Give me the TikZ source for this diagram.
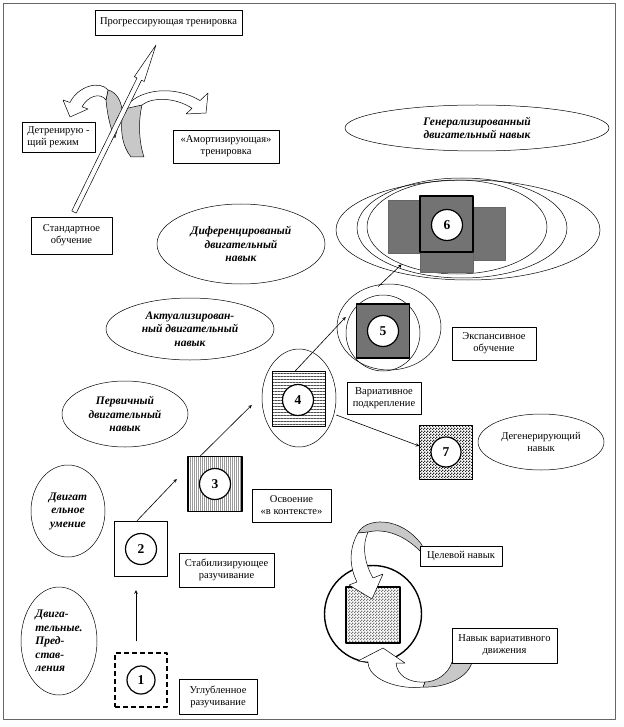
\documentclass[tikz,border=0pt]{standalone}
\usepackage{fontspec}
\setmainfont{Liberation Serif}
\usetikzlibrary{calc,arrows.meta,shapes.geometric,patterns.meta}
\definecolor{sqgray}{HTML}{737373}
\definecolor{twistgray}{HTML}{C8C8C8}
\tikzdeclarepattern{name=finechecker, type=uncolored,
	bounding box={(0,0) and (3pt,3pt)}, tile size={(3pt,3pt)},
	code={\fill (0,0) rectangle (1.5pt,1.5pt); \fill (1.5pt,1.5pt) rectangle (3pt,3pt);}}

\begin{document}
\begin{tikzpicture}[x=1pt, y=-1pt, >=stealth, line join=round,
	txt/.style={font=\fontsize{10.5}{12}\selectfont, align=center},
	box/.style={txt, draw, line width=0.6pt, fill=white, inner sep=0pt},
	oval/.style={ellipse, draw, line width=0.5pt, inner sep=0pt},
	bold/.style={font=\fontsize{11.5}{13.5}\selectfont\bfseries\itshape, align=center},
	sq/.style={draw, line width=1.4pt, inner sep=0pt},
	num/.style={circle, draw, fill=white, line width=1.2pt, inner sep=0pt, minimum size=31pt, font=\fontsize{13.5}{14}\selectfont\bfseries},
	arr/.style={->, line width=0.6pt},
	band/.style={draw, line width=0.5pt, fill=white},
	twist/.style={draw, line width=0.5pt, fill=twistgray}]
	\useasboundingbox (0,0) rectangle (623,727);
	% Рамка
	\draw[line width=1pt, black!60] (3,4) rectangle (615,719);

	% Изогнутые стрелки вверху
	\draw[twist] (108,90) .. controls (116,92) and (121,100) .. (122,110) -- (115,138) .. controls (110,128) and (107,112) .. (106,100) -- cycle;
	\draw[band] (70,102.5) .. controls (78,86) and (100,80) .. (108,90) -- (106,100) .. controls (100,92) and (88,96) .. (82,106.8) -- (88,109) -- (70,117) -- (63,100) -- cycle;
	\draw[twist] (124,109) .. controls (130,106) and (136,105) .. (142,105) .. controls (138,122) and (139,142) .. (144,157) -- (131,157) .. controls (122,146) and (119,128) .. (124,109) -- cycle;
	\draw[band] (124,109) .. controls (138,88) and (175,85) .. (200,100.6) -- (208,93) -- (206,113) -- (186,114) -- (192,108.3) .. controls (175,97) and (152,97) .. (142,105) -- cycle;

	% Стрелка прогресса
	\coordinate (tail) at (74,212);
	\coordinate (tip) at (156,45);
	\coordinate (hb) at ($(tip)!38pt!(tail)$);
	\draw[fill=white, line width=0.5pt] ($(tail)!2.5pt!90:(tip)$) -- ($(hb)!2.5pt!-90:(tail)$) -- ($(hb)!5.5pt!-90:(tail)$) -- (tip) -- ($(hb)!5.5pt!90:(tail)$) -- ($(hb)!2.5pt!90:(tail)$) -- ($(tail)!2.5pt!-90:(tip)$) -- cycle;

	% Подписи режимов
	\node[box, minimum width=147pt, minimum height=25pt] (prog) at (168.5,22.5) {Прогрессирующая тренировка};
	\node[box, align=left, minimum width=73pt, minimum height=30pt] (detr) at (58.5,137) {Детренирую -\\щий режим};
	\node[box, minimum width=106pt, minimum height=33pt] (amort) at (226,146.5) {«Амортизирующая»\\тренировка};
	\node[box, minimum width=81pt, minimum height=37pt] (std) at (71.5,235.5) {Стандартное\\обучение};

	% Уровни навыка
	\node[oval, bold, minimum width=264pt, minimum height=46pt] (gen) at (477,128) {Генерализированный\\двигательный навык};
	\node[oval, bold, minimum width=168pt, minimum height=80pt] (dif) at (241,244) {Диференцированый\\двигательный\\навык};
	\node[oval, bold, minimum width=168pt, minimum height=62pt] (akt) at (190,329) {Актуализирован-\\ный двигательный\\навык};
	\node[oval, bold, minimum width=126pt, minimum height=66pt] (perv) at (125,414) {Первичный\\двигательный\\навык};
	\node[oval, bold, minimum width=74pt, minimum height=92pt] (umen) at (68,511) {Двигат\\ельное\\умение};
	\node[oval, bold, align=left, minimum width=76pt, minimum height=108pt] (pred) at (59,641) {Двига-\\тельные.\\Пред-\\став-\\ления};
	\node[oval, txt, minimum width=126pt, minimum height=56pt] (deg) at (541,442) {Дегенерирующий\\навык};

	% Этапы 1--3
	\node[sq, dash pattern=on 5pt off 3pt, minimum width=52pt, minimum height=54pt] (sq1) at (141,680) {};
	\node[num, minimum size=28pt] (n1) at (sq1) {1};
	\node[sq, minimum width=53pt, minimum height=55pt] (sq2) at (141,549) {};
	\node[num] (n2) at (sq2) {2};
	\node[sq, pattern={Lines[angle=90,distance=2pt,line width=0.4pt]}, pattern color=black!40, minimum width=54pt, minimum height=55pt] (sq3) at (215,484) {};
	\node[num] (n3) at (sq3) {3};

	% Этап 4
	\node[oval, minimum width=74pt, minimum height=98pt] (e4) at (299,398) {};
	\node[sq, pattern={Lines[angle=0,distance=3pt,line width=0.6pt]}, pattern color=black!70, minimum width=53pt, minimum height=55pt] (sq4) at (299,399) {};
	\node[num] (n4) at (298,400) {4};

	% Этап 5
	\node[oval, minimum width=104pt, minimum height=86pt] (e5o) at (389,327) {};
	\node[oval, minimum width=74pt, minimum height=76pt] (e5i) at (383,333) {};
	\node[sq, fill=sqgray, minimum width=53pt, minimum height=54pt] (sq5) at (383,331) {};
	\node[num] (n5) at (sq5) {5};

	% Этап 6
	\node[oval, minimum width=264pt, minimum height=100pt] (e6a) at (468,230) {};
	\node[oval, minimum width=210pt, minimum height=100pt] (e6b) at (462,228) {};
	\node[oval, minimum width=180pt, minimum height=94pt] (e6c) at (457,227) {};
	\filldraw[fill=sqgray, draw=black!60, line width=0.5pt] (388,200) rectangle (442,253);
	\filldraw[fill=sqgray, draw=black!60, line width=0.5pt] (473,207) rectangle (505,260);
	\filldraw[fill=sqgray, draw=black!60, line width=0.5pt] (420,250) rectangle (473,272);
	\node[sq, fill=sqgray, minimum width=53pt, minimum height=56pt] (sq6) at (446.5,224) {};
	\node[num] (n6) at (447,225) {6};

	% Этап 7
	\node[sq, line width=0.5pt, pattern=finechecker, pattern color=black!85, minimum width=53pt, minimum height=54pt] (sq7) at (446,452) {};
	\node[num, minimum size=30pt] (n7) at (sq7) {7};

	% Переходы
	\draw[arr] ([xshift=-5pt,yshift=11pt]sq1.north) -- ([xshift=-5pt,yshift=-13pt]sq2.south);
	\draw[arr] ([xshift=-4pt]sq2.north) -- ([xshift=-11pt,yshift=5pt]sq3.west);
	\draw[arr] ([xshift=-15pt]sq3.north) -- ([xshift=-10pt,yshift=-7pt]e4.west);
	\draw[arr] ([xshift=-4pt]sq4.north) -- ([yshift=16pt]e5i.west);
	\draw[arr] ([yshift=-17pt]e4.east) -- ([yshift=6pt]sq7.west);
	\draw[arr] ([xshift=-11pt,yshift=-3pt]e5o.north) -- (e6c.214);

	% Подписи этапов
	\node[box, minimum width=78pt, minimum height=35pt] (ugl) at (218,696.5) {Углубленное\\разучивание};
	\node[box, minimum width=95pt, minimum height=34pt] (stab) at (226.5,570) {Стабилизирующее\\разучивание};
	\node[box, minimum width=79pt, minimum height=33pt] (osv) at (291.5,505.5) {Освоение\\«в контексте»};
	\node[box, minimum width=74pt, minimum height=32pt] (var) at (384,398) {Вариативное\\подкрепление};
	\node[box, minimum width=84pt, minimum height=33pt] (exp) at (494,343.5) {Экспансивное\\обучение};

	% Целевой навык и вариативное движение
	\node[circle, draw, line width=1.4pt, minimum size=97pt, inner sep=0pt] (ring) at (373,614) {};
	\node[sq, pattern=finechecker, pattern color=black!55, minimum width=54pt, minimum height=56pt] (goal) at (373,615) {};
	\draw[twist] (358,533) .. controls (365,518) and (400,515) .. (422,545) -- (422,553) .. controls (405,535) and (385,528) .. (368,532) -- cycle;
	\draw[band] (358,533) .. controls (348,550) and (350,568) .. (357,582) -- (349,585) -- (372,599) -- (383,574) -- (373,578) .. controls (364,562) and (362,545) .. (368,532) -- cycle;
	\draw[twist] (423,687) .. controls (445,688) and (468,678) .. (472,662) -- (452,662) .. controls (448,675) and (435,682) .. (425,682) -- cycle;
	\draw[band] (368,662) .. controls (368,680) and (400,690) .. (423,687) -- (425,682) .. controls (408,683) and (397,675) .. (396,663) -- (405,663) -- (383,648) -- (358,661) -- cycle;
	\node[box, minimum width=82pt, minimum height=20pt] (cel) at (461,556) {Целевой навык};
	\node[box, minimum width=105pt, minimum height=35pt] (nav) at (504.5,645.5) {Навык вариативного\\движения};
\end{tikzpicture}
\end{document}
